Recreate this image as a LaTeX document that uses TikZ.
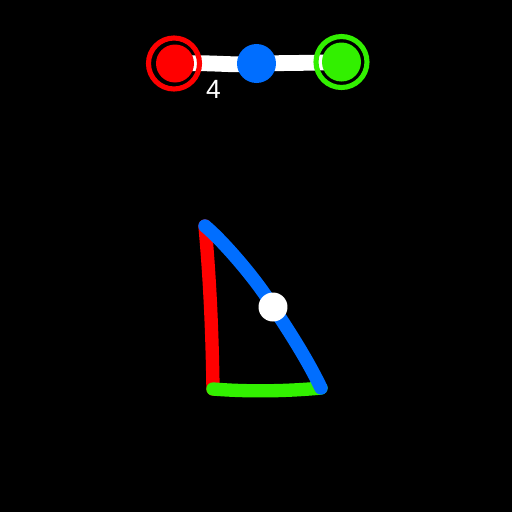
\documentclass[tikz,border=0pt]{standalone}
\usepackage{fontspec}
\setmainfont{Liberation Sans}
\definecolor{pred}{RGB}{255,0,0}
\definecolor{pblue}{RGB}{0,110,255}
\definecolor{pgreen}{RGB}{50,240,0}
\begin{document}
\begin{tikzpicture}[x=0.02cm,y=-0.02cm,
  dot/.style={circle,inner sep=0pt,minimum size=#1*0.04cm},
  ring/.style={circle,draw=#1,line width=2.9pt,inner sep=0pt,minimum size=51*0.02cm},
  bar/.style={line width=9pt,white},
  side/.style={line width=7.6pt,line cap=round}]
\fill[black] (0,0) rectangle (512,512);
\useasboundingbox (0,0) rectangle (512,512);
% top
\coordinate (rc) at (175,63.5);
\coordinate (bc) at (256.5,63.5);
\coordinate (gc) at (341.5,62);
\draw[bar] (rc) .. controls (215,62) and (235,66) .. (bc) .. controls (280,63) and (310,63) .. (gc);
\node[ring=pred] (rr) at (174,63.5) {};
\node[ring=pgreen] (gr) at (341.5,62) {};
\node[dot=19,fill=pred] (r) at (rc) {};
\node[dot=19.5,fill=pblue] (b) at (bc) {};
\node[dot=19.5,fill=pgreen] (g) at (gc) {};
\node[text=white,font=\fontsize{15}{15}\selectfont] (four) at (213.5,89) {4};
% triangle
\coordinate (A) at (205,226);
\coordinate (B) at (213,389);
\coordinate (C) at (321,388);
\draw[side,pred] (A) .. controls (209,270) and (212,320) .. (B);
\draw[side,pgreen] (B) .. controls (250,392) and (290,391) .. (C);
\draw[side,pblue] (A) .. controls (222,240) and (257,280) .. (273,307) .. controls (295,340) and (310,365) .. (C);
\node[dot=14.5,fill=white] (w) at (273,307) {};
\end{tikzpicture}
\end{document}
